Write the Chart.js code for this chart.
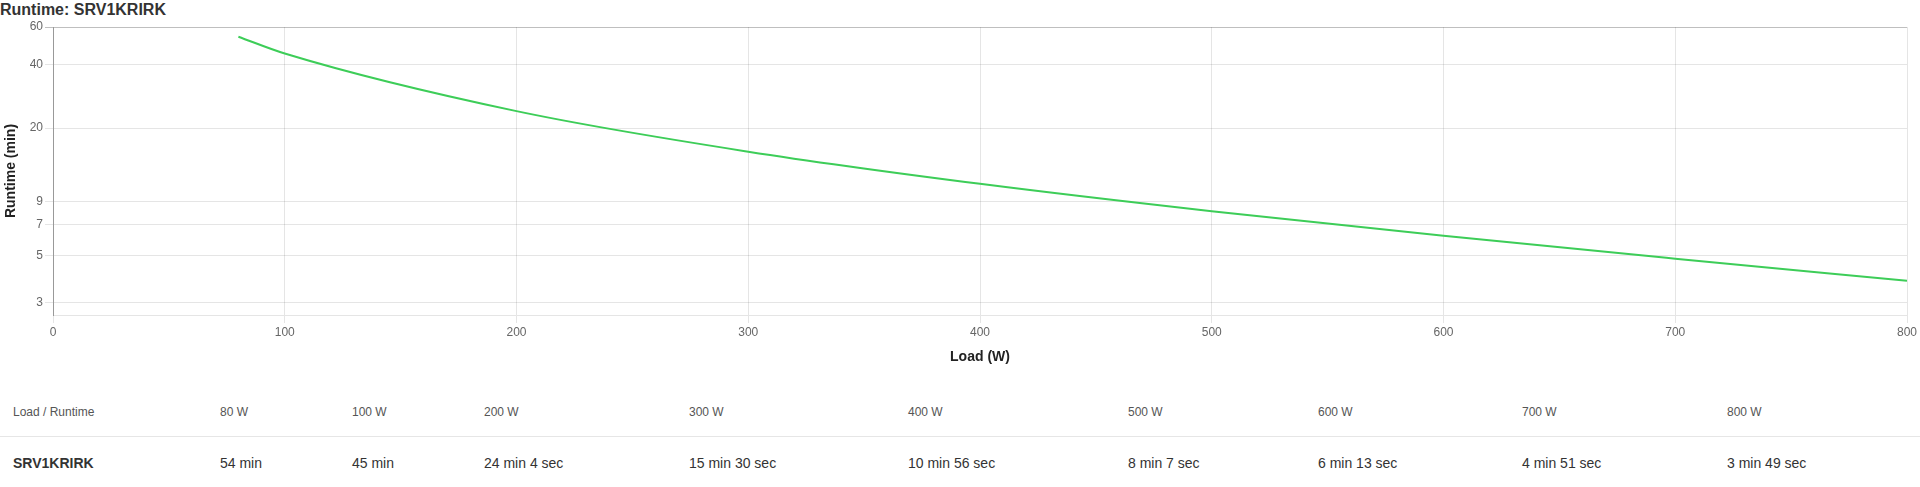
<!DOCTYPE html>
<html>
<head>
<meta charset="utf-8">
<script src="https://cdn.jsdelivr.net/npm/chart.js@4.4.0/dist/chart.umd.min.js"></script>
<style>
  body { margin: 0; background: #fff; font-family: "Liberation Sans", Arial, sans-serif; }
  #page { position: relative; width: 1920px; height: 487px; overflow: hidden; }
  #titulo { position: absolute; left: 0; top: 1px; font-size: 16px; font-weight: bold; color: #333; line-height: 18px; }
  #caja { position: absolute; left: 0; top: 0; width: 1920px; height: 370px; }
  #tabla { position: absolute; left: 0; top: 388px; width: 1920px; border-collapse: collapse; table-layout: fixed; }
  #tabla td { padding: 0 0 0 13px; white-space: nowrap; }
  #tabla tr.cab td { height: 48px; font-size: 12px; color: #555; border-bottom: 1px solid #e6e6e6; }
  #tabla tr.fila td { height: 52px; font-size: 14px; color: #333; }
  #tabla tr.fila td:first-child { font-weight: bold; }
</style>
</head>
<body>
<div id="page">
  <div id="titulo">Runtime: SRV1KRIRK</div>
  <div id="caja"><canvas id="elGrafico"></canvas></div>
  <table id="tabla">
    <colgroup>
      <col style="width:207px"><col style="width:132px"><col style="width:132px"><col style="width:205px">
      <col style="width:219px"><col style="width:220px"><col style="width:190px"><col style="width:204px">
      <col style="width:205px"><col style="width:206px">
    </colgroup>
    <tr class="cab" id="cabecera"></tr>
    <tr class="fila" id="valores"></tr>
  </table>
</div>
<script>
const modelo = 'SRV1KRIRK'
const cargas = [80, 100, 200, 300, 400, 500, 600, 700, 800]
const runtimeSeg = [3240, 2700, 1444, 930, 656, 487, 373, 291, 229]
const ticksY = [60, 40, 20, 9, 7, 5, 3]

const formato = (seg) => {
    const m = Math.floor(seg / 60)
    const s = seg % 60
    return s ? `${m} min ${s} sec` : `${m} min`
}

// tabla
const cabecera = document.getElementById('cabecera')
const valores = document.getElementById('valores')
cabecera.innerHTML = '<td>Load / Runtime</td>' + cargas.map((c) => `<td>${c} W</td>`).join('')
valores.innerHTML = `<td>${modelo}</td>` + runtimeSeg.map((s) => `<td>${formato(s)}</td>`).join('')

// grafico
Chart.defaults.font.family = '"Liberation Sans", Arial, sans-serif'
Chart.defaults.color = '#666'

const puntos = cargas.map((c, i) => ({ x: c, y: runtimeSeg[i] / 60 }))

new Chart('elGrafico', {
    type: 'line',
    data: {
        datasets: [{
            data: puntos,
            borderColor: '#3dcd58',
            borderWidth: 2,
            pointRadius: 0,
            fill: false,
            cubicInterpolationMode: 'monotone'
        }]
    },
    options: {
        responsive: true,
        maintainAspectRatio: false,
        animation: false,
        layout: { padding: { top: 27, right: 13, left: 0, bottom: 0 } },
        plugins: { legend: { display: false }, tooltip: { enabled: false } },
        scales: {
            x: {
                type: 'linear',
                min: 0,
                max: 800,
                ticks: { stepSize: 100, font: { size: 12 }, padding: 2, maxRotation: 0 },
                grid: { color: 'rgba(0,0,0,0.1)', tickLength: 8 },
                border: { color: 'rgba(0,0,0,0.1)' },
                title: { display: true, text: 'Load (W)', color: '#222', font: { size: 14, weight: 'bold' }, padding: { top: 4, bottom: 4 } },
                afterFit: (scale) => { scale.height = 55 }
            },
            y: {
                type: 'logarithmic',
                min: 2.63,
                max: 60,
                afterBuildTicks: (scale) => { scale.ticks = ticksY.map((v) => ({ value: v })) },
                ticks: { callback: (v) => String(v), font: { size: 12 }, padding: 2 },
                grid: {
                    color: (ctx) => ctx.tick && ctx.tick.value === 60 ? 'rgba(0,0,0,0.25)' : 'rgba(0,0,0,0.1)',
                    tickLength: 8
                },
                border: { color: '#999' },
                title: { display: true, text: 'Runtime (min)', color: '#222', font: { size: 14, weight: 'bold' }, padding: { top: 3, bottom: 3 } },
                afterFit: (scale) => { scale.width = 53 }
            }
        }
    }
})
</script>
</body>
</html>
